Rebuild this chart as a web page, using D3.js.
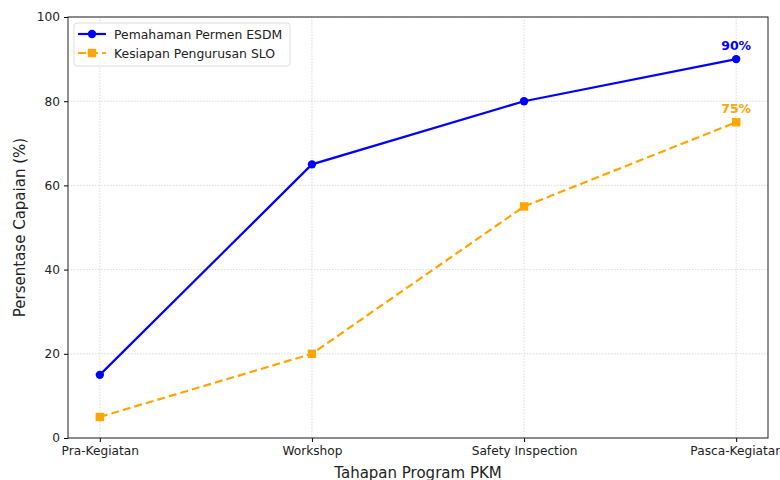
<!DOCTYPE html>
<html>
<head>
<meta charset="utf-8">
<script src="https://cdn.jsdelivr.net/npm/d3@7"></script>
<style>
  body { margin: 0; background: #fff; }
  svg text { font-family: "DejaVu Sans", sans-serif; fill: #222; }
</style>
</head>
<body>
<div id="chart"></div>
<script>
// Données
const tahapan = ["Pra-Kegiatan", "Workshop", "Safety Inspection", "Pasca-Kegiatan"];
const pemahaman = [15, 65, 80, 90];
const kesiapan = [5, 20, 55, 75];
const yTicks = [0, 20, 40, 60, 80, 100];

const width = 780, height = 480;
const margin = { top: 17, right: 12, bottom: 42, left: 68 };

const svg = d3.select("#chart").append("svg")
    .attr("width", width).attr("height", height);

// échelle x avec marge de 5% comme matplotlib
const x = d3.scaleLinear()
    .domain([-0.15, tahapan.length - 1 + 0.15])
    .range([margin.left, width - margin.right]);
const y = d3.scaleLinear().domain([0, 100]).range([height - margin.bottom, margin.top]);

// grille
const grid = svg.append("g").attr("stroke", "#ccc").attr("stroke-width", 0.7).attr("stroke-dasharray", "1.5,1.5");
grid.selectAll(".gx").data(tahapan).enter().append("line")
    .attr("x1", (d, i) => x(i)).attr("x2", (d, i) => x(i))
    .attr("y1", y(0)).attr("y2", y(100));
grid.selectAll(".gy").data(yTicks).enter().append("line")
    .attr("x1", x.range()[0]).attr("x2", x.range()[1])
    .attr("y1", d => y(d)).attr("y2", d => y(d));

// axes
svg.append("g")
    .attr("transform", `translate(0,${y(0)})`)
    .call(d3.axisBottom(x).tickValues(d3.range(tahapan.length)).tickFormat(i => tahapan[i]).tickSize(4).tickPadding(4))
    .call(g => g.select(".domain").remove())
    .selectAll("text").style("font-size", "12.2px");

svg.append("g")
    .attr("transform", `translate(${margin.left},0)`)
    .call(d3.axisLeft(y).tickValues(yTicks).tickSize(4).tickPadding(4))
    .call(g => g.select(".domain").remove())
    .selectAll("text").style("font-size", "12.2px");

svg.append("rect")
    .attr("x", x.range()[0]).attr("y", y(100))
    .attr("width", x.range()[1] - x.range()[0]).attr("height", y(0) - y(100))
    .attr("fill", "none").attr("stroke", "#222").attr("stroke-width", 1);

// libellés des axes
svg.append("text")
    .attr("x", (x.range()[0] + x.range()[1]) / 2).attr("y", 478)
    .attr("text-anchor", "middle").style("font-size", "15px")
    .text("Tahapan Program PKM");
svg.append("text")
    .attr("transform", `translate(25,${(y(0) + y(100)) / 2}) rotate(-90)`)
    .attr("text-anchor", "middle").style("font-size", "15px")
    .text("Persentase Capaian (%)");

// séries
const series = [
    { name: "Pemahaman Permen ESDM", values: pemahaman, color: "#0000ff", dash: null, marker: "circle" },
    { name: "Kesiapan Pengurusan SLO", values: kesiapan, color: "#ffa500", dash: "8,4", marker: "square" }
];

const line = d3.line().x((d, i) => x(i)).y(d => y(d));

series.forEach(s => {
    svg.append("path")
        .attr("d", line(s.values))
        .attr("fill", "none").attr("stroke", s.color).attr("stroke-width", 2.2)
        .attr("stroke-dasharray", s.dash);
    if (s.marker === "circle") {
        svg.selectAll(null).data(s.values).enter().append("circle")
            .attr("cx", (d, i) => x(i)).attr("cy", d => y(d)).attr("r", 4.2)
            .attr("fill", s.color);
    } else {
        svg.selectAll(null).data(s.values).enter().append("rect")
            .attr("x", (d, i) => x(i) - 4.2).attr("y", d => y(d) - 4.2)
            .attr("width", 8.4).attr("height", 8.4)
            .attr("fill", s.color);
    }
    // étiquette de la dernière valeur
    const last = s.values.length - 1;
    svg.append("text")
        .attr("x", x(last)).attr("y", y(s.values[last]) - 9)
        .attr("text-anchor", "middle").style("font-size", "12.5px").style("font-weight", "bold")
        .style("fill", s.color)
        .text(s.values[last] + "%");
});

// légende
const legend = svg.append("g").attr("transform", "translate(74,23)");
legend.append("rect")
    .attr("width", 216).attr("height", 43).attr("rx", 3)
    .attr("fill", "#fff").attr("fill-opacity", 0.8)
    .attr("stroke", "#ddd");
series.forEach((s, i) => {
    const g = legend.append("g").attr("transform", `translate(0,${11 + i * 19})`);
    g.append("line").attr("x1", 4).attr("x2", 32).attr("y1", 0).attr("y2", 0)
        .attr("stroke", s.color).attr("stroke-width", 2.2).attr("stroke-dasharray", s.dash);
    if (s.marker === "circle") {
        g.append("circle").attr("cx", 18).attr("cy", 0).attr("r", 4.2).attr("fill", s.color);
    } else {
        g.append("rect").attr("x", 13.8).attr("y", -4.2).attr("width", 8.4).attr("height", 8.4).attr("fill", s.color);
    }
    g.append("text").attr("x", 40).attr("y", 4.5).style("font-size", "12.4px").text(s.name);
});
</script>
</body>
</html>
